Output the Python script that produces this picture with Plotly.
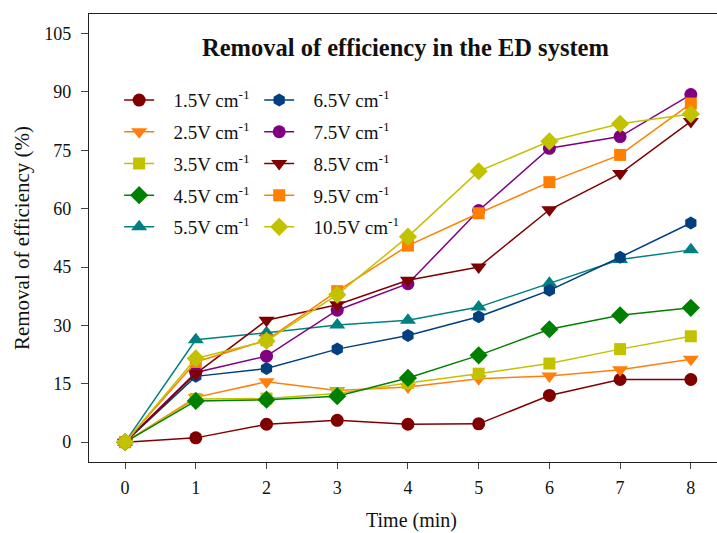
import plotly.graph_objects as go

time_min = [0, 1, 2, 3, 4, 5, 6, 7, 8]

series_labels = ["1.5", "2.5", "3.5", "4.5", "5.5", "6.5", "7.5", "8.5", "9.5", "10.5"]

eff_1_5 = [0, 1.1, 4.6, 5.6, 4.6, 4.7, 12.0, 16.1, 16.1]
eff_2_5 = [0, 11.5, 15.5, 13.3, 14.2, 16.3, 17.0, 18.6, 21.3]
eff_3_5 = [0, 11.1, 11.2, 12.5, 15.2, 17.6, 20.2, 23.9, 27.2]
eff_4_5 = [0, 10.6, 10.9, 11.8, 16.5, 22.3, 29.0, 32.6, 34.5]
eff_5_5 = [0, 26.3, 28.1, 30.1, 31.3, 34.7, 40.8, 46.9, 49.4]
eff_6_5 = [0, 16.9, 18.9, 23.9, 27.4, 32.2, 39.0, 47.5, 56.3]
eff_7_5 = [0, 17.9, 22.1, 33.9, 40.7, 59.5, 75.5, 78.5, 89.3]
eff_8_5 = [0, 17.6, 31.3, 35.3, 41.6, 45.0, 59.7, 69.0, 82.4]
eff_9_5 = [0, 20.6, 26.2, 38.8, 50.5, 58.8, 66.8, 73.8, 87.0]
eff_10_5 = [0, 21.5, 26.0, 37.9, 52.8, 69.6, 77.3, 81.8, 84.3]

series_values = [eff_1_5, eff_2_5, eff_3_5, eff_4_5, eff_5_5,
                 eff_6_5, eff_7_5, eff_8_5, eff_9_5, eff_10_5]

colors = ["#800000", "#ff7f0e", "#c2c200", "#008000", "#008080",
          "#00407f", "#800080", "#7f0000", "#ff8000", "#c2c200"]
symbols = ["circle", "triangle-down", "square", "diamond", "triangle-up",
           "hexagon", "circle", "triangle-down", "square", "diamond"]
sizes = [13, 14, 12, 14, 14, 13, 13, 14, 12, 14]

serif = "Liberation Serif"
pad = "\u00a0\u00a0\u00a0"

fig = go.Figure()
for i, (lab, vals) in enumerate(zip(series_labels, series_values)):
    fig.add_trace(go.Scatter(
        x=time_min, y=vals,
        mode="lines+markers",
        name=f"{pad}{lab}V cm<sup>-1</sup>",
        legendgroup=f"g{i}",
        line=dict(color=colors[i], width=1.5),
        marker=dict(color=colors[i], symbol=symbols[i], size=sizes[i],
                    line=dict(width=0)),
        legend="legend" if i < 5 else "legend2",
    ))

legend_style = dict(
    font=dict(family=serif, size=19, color="#111"),
    bgcolor="rgba(0,0,0,0)",
    borderwidth=0,
    xanchor="left", yanchor="top",
    tracegroupgap=4,
    itemwidth=30,
)

fig.update_layout(
    width=717, height=533,
    margin=dict(l=89, r=0, t=14, b=71),
    paper_bgcolor="white", plot_bgcolor="white",
    font=dict(family=serif, size=18, color="#111"),
    legend=dict(x=0.048, y=0.85, **legend_style),
    legend2=dict(x=0.271, y=0.85, **legend_style),
    annotations=[
        dict(
            text="<b>Removal of efficiency in the ED system</b>",
            xref="paper", yref="paper", x=0.504, y=0.925,
            xanchor="center", yanchor="middle", showarrow=False,
            font=dict(family=serif, size=24.5, color="#111"),
        ),
        # x-axis title near the bottom edge
        dict(
            text="Time (min)",
            xref="paper", yref="paper", x=0.514, y=-0.13,
            xanchor="center", yanchor="middle", showarrow=False,
            font=dict(family=serif, size=20, color="#111"),
        ),
    ],
)

fig.update_xaxes(
    range=[-0.51, 8.37],
    tickvals=time_min,
    ticks="outside", ticklen=6, tickcolor="#444", tickwidth=1,
    showline=True, linecolor="#222", linewidth=1.3, mirror=True,
    showgrid=False, zeroline=False, automargin=False,
    ticklabelstandoff=3,
    tickfont=dict(family=serif, size=18, color="#111"),
)
fig.update_yaxes(
    range=[-5.1, 110],
    tickvals=[0, 15, 30, 45, 60, 75, 90, 105],
    ticks="outside", ticklen=7, tickcolor="#444", tickwidth=1,
    showline=True, linecolor="#222", linewidth=1.3,
    showgrid=False, zeroline=False, automargin=False,
    ticklabelstandoff=6,
    tickfont=dict(family=serif, size=18, color="#111"),
    title=dict(text="Removal of efficiency (%)",
               font=dict(family=serif, size=21, color="#111"), standoff=8),
)

fig.write_html("out.html")
